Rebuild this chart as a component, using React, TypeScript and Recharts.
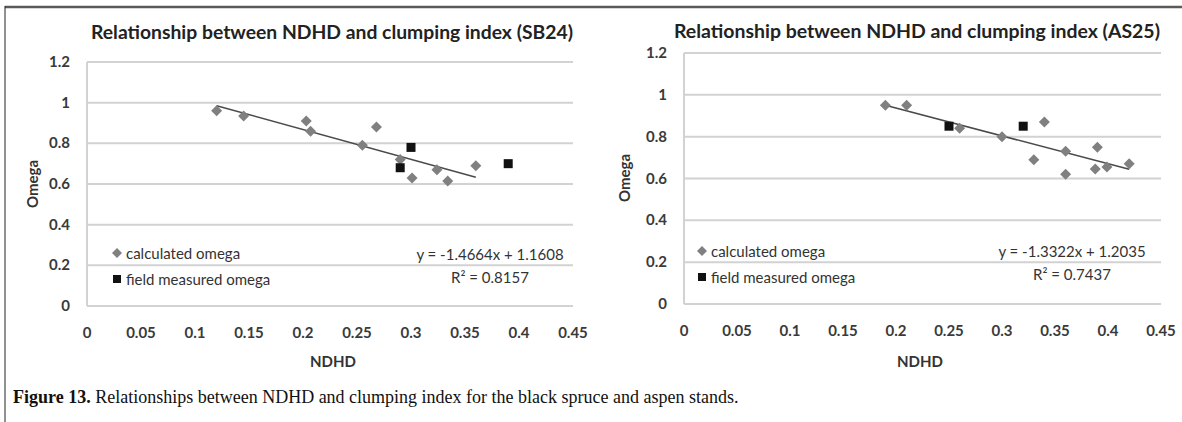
import React from 'react';
import {
    ScatterChart,
    Scatter,
    XAxis,
    YAxis,
    CartesianGrid,
    ReferenceLine,
    Legend,
} from 'recharts';

// values
const xTicks = [0, 0.05, 0.1, 0.15, 0.2, 0.25, 0.3, 0.35, 0.4, 0.45];
const yTicks = [0, 0.2, 0.4, 0.6, 0.8, 1, 1.2];

const sb24Calculated = [
    { x: 0.12, y: 0.96 },
    { x: 0.145, y: 0.935 },
    { x: 0.203, y: 0.91 },
    { x: 0.207, y: 0.86 },
    { x: 0.255, y: 0.79 },
    { x: 0.268, y: 0.88 },
    { x: 0.29, y: 0.72 },
    { x: 0.301, y: 0.63 },
    { x: 0.324, y: 0.67 },
    { x: 0.334, y: 0.615 },
    { x: 0.36, y: 0.69 },
];
const sb24Field = [
    { x: 0.3, y: 0.78 },
    { x: 0.29, y: 0.68 },
    { x: 0.39, y: 0.7 },
];
const sb24Trend = [
    { x: 0.12, y: 0.985 },
    { x: 0.36, y: 0.633 },
];

const as25Calculated = [
    { x: 0.19, y: 0.95 },
    { x: 0.21, y: 0.95 },
    { x: 0.26, y: 0.84 },
    { x: 0.3, y: 0.8 },
    { x: 0.33, y: 0.69 },
    { x: 0.34, y: 0.87 },
    { x: 0.36, y: 0.73 },
    { x: 0.36, y: 0.62 },
    { x: 0.39, y: 0.75 },
    { x: 0.388, y: 0.645 },
    { x: 0.399, y: 0.655 },
    { x: 0.42, y: 0.67 },
];
const as25Field = [
    { x: 0.25, y: 0.85 },
    { x: 0.32, y: 0.85 },
];
const as25Trend = [
    { x: 0.19, y: 0.95 },
    { x: 0.42, y: 0.644 },
];

const sans = 'Lato, "Open Sans", sans-serif';
const gridColor = '#d2d2d2';
const diamondColor = '#808080';
const squareColor = '#111111';

const Diamond = (p: any) => {
    const { cx, cy } = p;
    const r = 5.5;
    return (
        <polygon
            points={`${cx},${cy - r} ${cx + r},${cy} ${cx},${cy + r} ${cx - r},${cy}`}
            fill={diamondColor}
        />
    );
};

const Square = (p: any) => (
    <rect x={p.cx - 4.5} y={p.cy - 4.5} width={9} height={9} fill={squareColor} />
);

const XTick = (props: any) => {
    const { x, y, payload } = props;
    return (
        <text x={x} y={y + 32} textAnchor="middle" fontFamily={sans} fontSize={15} fontWeight="bold" fill="#3a3a3a">
            {payload.value}
        </text>
    );
};

const YTick = (props: any) => {
    const { x, y, payload } = props;
    return (
        <text x={x - 17} y={y + 5} textAnchor="end" fontFamily={sans} fontSize={15} fontWeight="bold" fill="#3a3a3a">
            {payload.value}
        </text>
    );
};

const LegendBox = (props: any) => (
    <div style={{ fontFamily: sans, fontSize: 15, color: '#333', lineHeight: '26px' }}>
        {props.payload.map((entry: any) => (
            <div key={entry.value} style={{ display: 'flex', alignItems: 'center', whiteSpace: 'nowrap' }}>
                <svg width={12} height={12} style={{ marginRight: 3 }}>
                    {entry.type === 'diamond' ? (
                        <polygon points="6,1 11,6 6,11 1,6" fill={diamondColor} />
                    ) : (
                        <rect x={2} y={2} width={8} height={8} fill={squareColor} />
                    )}
                </svg>
                {entry.value}
            </div>
        ))}
    </div>
);

interface PanelProps {
    left: number;
    width: number;
    margin: { top: number; right: number; bottom: number; left: number };
    calculated: { x: number; y: number }[];
    field: { x: number; y: number }[];
    trend: { x: number; y: number }[];
    legendLeft: number;
    legendTop: number;
}

function Panel(props: PanelProps) {
    const { left, width, margin, calculated, field, trend, legendLeft, legendTop } = props;
    return (
        <div style={{ position: 'absolute', left, top: 0 }}>
            <ScatterChart width={width} height={370} margin={margin}>
                <CartesianGrid vertical={false} stroke={gridColor} strokeWidth={2} />
                <XAxis
                    type="number"
                    dataKey="x"
                    domain={[0, 0.45]}
                    ticks={xTicks}
                    interval={0}
                    height={30}
                    tickSize={0}
                    tickMargin={0}
                    tick={<XTick />}
                    axisLine={{ stroke: gridColor, strokeWidth: 2 }}
                />
                <YAxis
                    type="number"
                    dataKey="y"
                    domain={[0, 1.2]}
                    ticks={yTicks}
                    interval={0}
                    width={60}
                    tickSize={0}
                    tickMargin={0}
                    tick={<YTick />}
                    axisLine={{ stroke: gridColor, strokeWidth: 2 }}
                />
                <Legend
                    layout="horizontal"
                    verticalAlign="middle"
                    content={<LegendBox />}
                    wrapperStyle={{ left: legendLeft, top: legendTop, width: 220, height: 52 }}
                />
                <ReferenceLine
                    segment={trend}
                    stroke="#4a4a4a"
                    strokeWidth={1.5}
                    ifOverflow="visible"
                />
                <Scatter
                    name="calculated omega"
                    data={calculated}
                    legendType="diamond"
                    shape={<Diamond />}
                    isAnimationActive={false}
                />
                <Scatter
                    name="field measured omega"
                    data={field}
                    legendType="square"
                    shape={<Square />}
                    isAnimationActive={false}
                />
            </ScatterChart>
        </div>
    );
}

export default function App() {
    const titleStyle = { fontFamily: sans, fontWeight: 'bold' as const, fontSize: 18, fill: '#222' };
    const axisTitle = { fontFamily: sans, fontWeight: 'bold' as const, fontSize: 15, fill: '#333' };
    const eqStyle = { fontFamily: sans, fontSize: 15, fill: '#333' };
    return (
        <div style={{ position: 'absolute', left: 0, top: 0, width: 1182, height: 422, background: '#fff' }}>
            <Panel
                left={0}
                width={590}
                margin={{ top: 62, right: 17, bottom: 34, left: 27 }}
                calculated={sb24Calculated}
                field={sb24Field}
                trend={sb24Trend}
                legendLeft={111}
                legendTop={240}
            />
            <Panel
                left={590}
                width={592}
                margin={{ top: 53, right: 21, bottom: 36, left: 34 }}
                calculated={as25Calculated}
                field={as25Field}
                trend={as25Trend}
                legendLeft={106}
                legendTop={238}
            />
            <svg
                width={1182}
                height={422}
                style={{ position: 'absolute', left: 0, top: 0, pointerEvents: 'none' }}
            >
                <line x1={5} y1={7} x2={1182} y2={7} stroke="#5a5a5a" strokeWidth={2.5} />
                <line x1={5} y1={6} x2={5} y2={422} stroke="#222" strokeWidth={1} />

                <text x={91} y={39} textLength={482} lengthAdjust="spacingAndGlyphs" style={titleStyle}>
                    Relationship between NDHD  and clumping index (SB24)
                </text>
                <text x={674} y={38} textLength={486} lengthAdjust="spacingAndGlyphs" style={titleStyle}>
                    Relationship between NDHD  and clumping index (AS25)
                </text>

                <text x={333} y={367} textAnchor="middle" style={axisTitle}>NDHD</text>
                <text x={920} y={367} textAnchor="middle" style={axisTitle}>NDHD</text>
                <text transform="translate(38,184) rotate(-90)" textAnchor="middle" style={axisTitle}>Omega</text>
                <text transform="translate(630,178) rotate(-90)" textAnchor="middle" style={axisTitle}>Omega</text>

                <text x={490} y={260} textAnchor="middle" style={eqStyle}>y = -1.4664x + 1.1608</text>
                <text x={490} y={283} textAnchor="middle" style={eqStyle}>R² = 0.8157</text>
                <text x={1072} y={257} textAnchor="middle" style={eqStyle}>y = -1.3322x + 1.2035</text>
                <text x={1072} y={280} textAnchor="middle" style={eqStyle}>R² = 0.7437</text>

                <text x={13} y={403} fontFamily='"Liberation Serif", "Times New Roman", serif' fontSize={18} fill="#111">
                    <tspan fontWeight="bold">Figure 13.</tspan>
                    <tspan> Relationships between NDHD and clumping index for the black spruce and aspen stands.</tspan>
                </text>
            </svg>
        </div>
    );
}
